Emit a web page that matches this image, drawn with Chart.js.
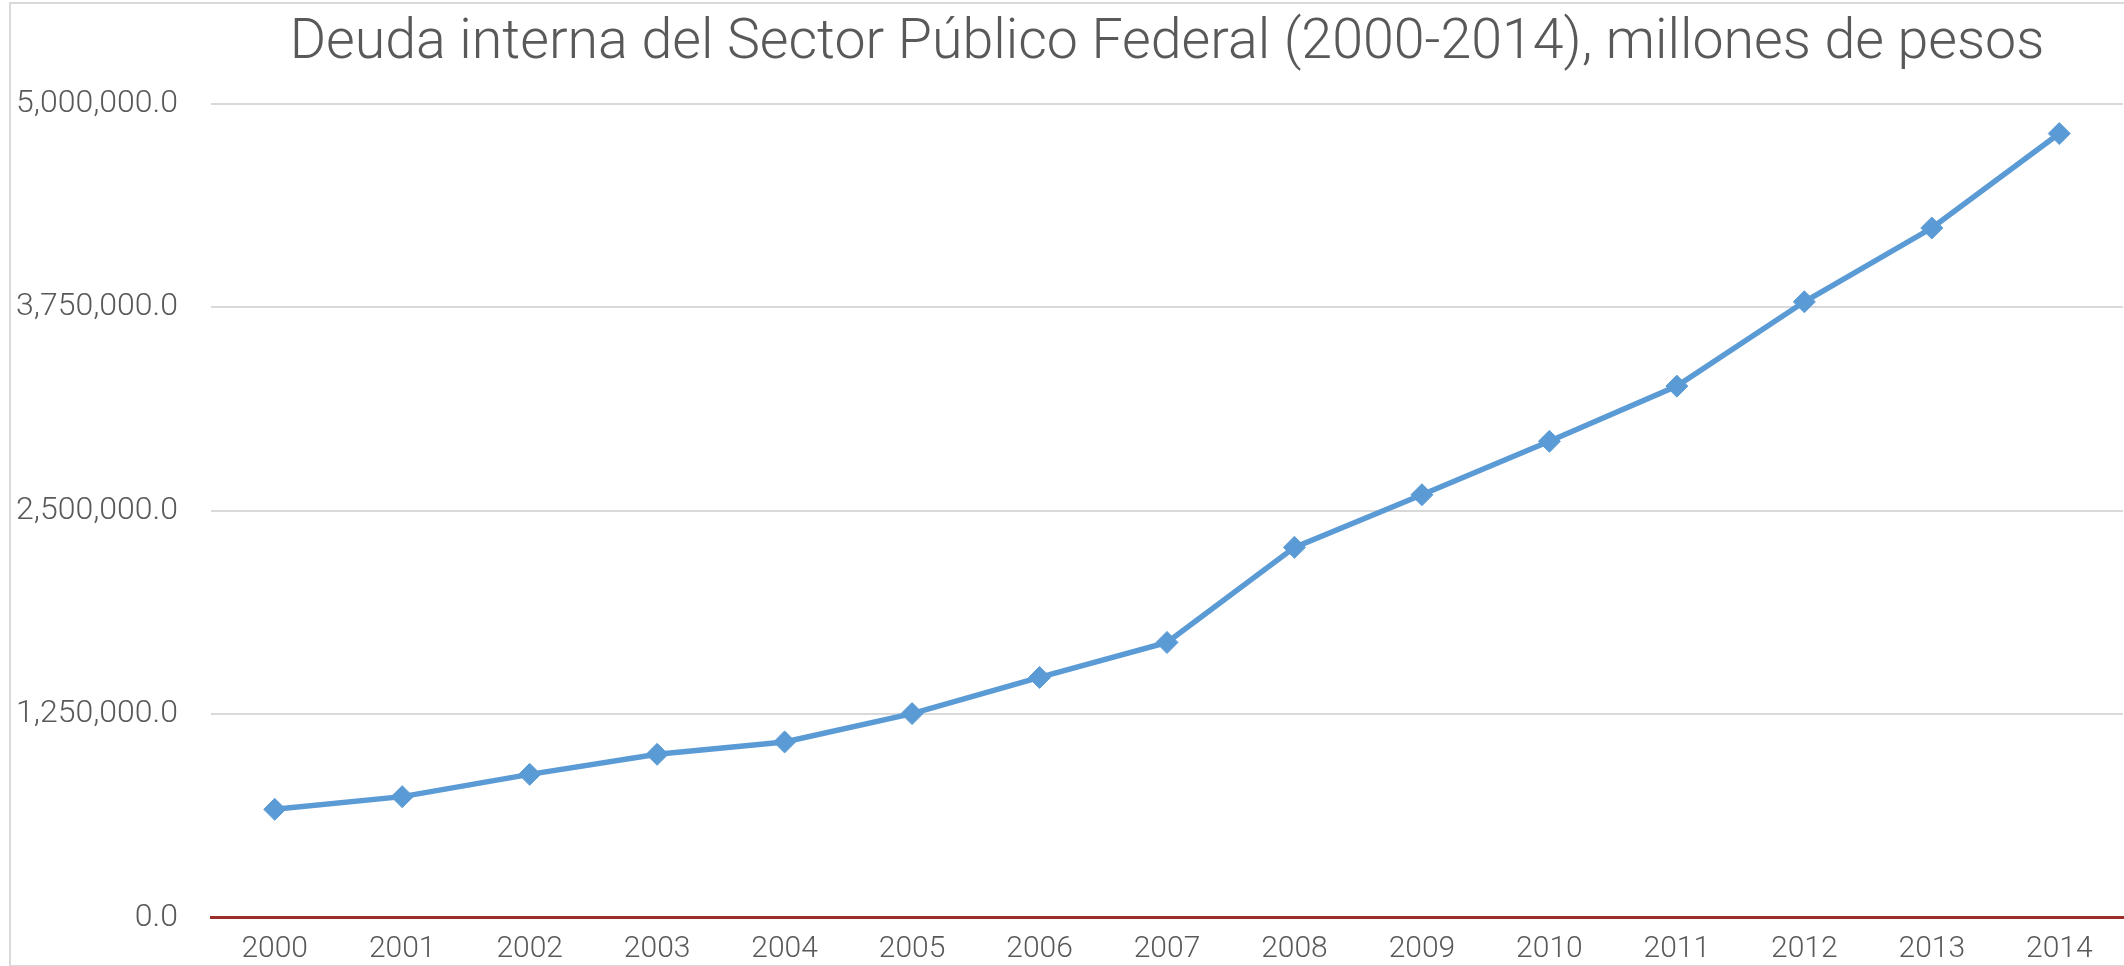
<!DOCTYPE html>
<html>
<head>
<meta charset="utf-8">
<script src="https://cdn.jsdelivr.net/npm/chart.js@4.4.1/dist/chart.umd.min.js"></script>
<style>
  html, body { margin: 0; padding: 0; background: #fff; overflow: hidden; }
  #wrap { position: relative; width: 2124px; height: 966px; overflow: hidden; }
  #debtChart { position: absolute; left: 0; top: 4px; }
  #frame {
    position: absolute; left: 9px; top: 2px; width: 2200px; height: 961px;
    border: 2px solid #d9d9d9; pointer-events: none;
  }
</style>
</head>
<body>
<div id="wrap">
  <canvas id="debtChart" width="2124" height="966"></canvas>
  <div id="frame"></div>
</div>
<script>
const years = ['2000', '2001', '2002', '2003', '2004', '2005', '2006', '2007',
               '2008', '2009', '2010', '2011', '2012', '2013', '2014'];
const deudaInterna = [666000, 744000, 881000, 1004000, 1080000, 1254000, 1476000, 1691000,
                      2275000, 2598000, 2926000, 3265000, 3783000, 4236000, 4816000];
const yTicks = [0, 1250000, 2500000, 3750000, 5000000];
const titleText = 'Deuda interna del Sector Público Federal (2000-2014), millones de pesos';

const textColor = '#595959';
const fontFamily = 'Roboto, "Liberation Sans", sans-serif';

function formatTick(value) {
  return Number(value).toLocaleString('en-US', { minimumFractionDigits: 1, maximumFractionDigits: 1 });
}

const ctx = document.getElementById('debtChart').getContext('2d');
new Chart(ctx, {
  type: 'line',
  data: {
    labels: years,
    datasets: [{
      data: deudaInterna,
      borderColor: '#5b9bd5',
      backgroundColor: '#5b9bd5',
      borderWidth: 5.5,
      pointStyle: 'rectRot',
      pointRadius: 11,
      pointBorderWidth: 1,
      pointBackgroundColor: '#5b9bd5',
      pointBorderColor: '#5b9bd5',
      tension: 0
    }]
  },
  options: {
    responsive: false,
    animation: false,
    layout: { autoPadding: false, padding: { top: 0, right: 1, bottom: 0, left: 0 } },
    plugins: {
      legend: { display: false },
      tooltip: { enabled: false },
      title: {
        display: true,
        fullSize: false,
        text: titleText,
        color: textColor,
        font: { family: fontFamily, size: 55.5, weight: '300' },
        padding: { top: 7, bottom: 26 }
      }
    },
    scales: {
      x: {
        offset: true,
        afterFit: (scale) => { scale.height = 41; },
        grid: { display: false, drawTicks: false },
        border: { display: true, color: '#9b2d2a', width: 3 },
        ticks: {
          color: textColor,
          font: { family: fontFamily, size: 30, weight: '300' },
          padding: 14,
          maxRotation: 0
        }
      },
      y: {
        min: 0,
        max: 5000000,
        afterFit: (scale) => { scale.width = 211; },
        afterBuildTicks: (scale) => { scale.ticks = yTicks.map(v => ({ value: v })); },
        grid: {
          drawTicks: false,
          lineWidth: 2,
          color: (c) => (c.tick && c.tick.value === 0) ? 'rgba(0,0,0,0)' : '#d9d9d9'
        },
        border: { display: false },
        ticks: {
          color: textColor,
          font: { family: fontFamily, size: 32, weight: '300' },
          padding: 33,
          callback: (v) => formatTick(v)
        }
      }
    }
  }
});
</script>
</body>
</html>
